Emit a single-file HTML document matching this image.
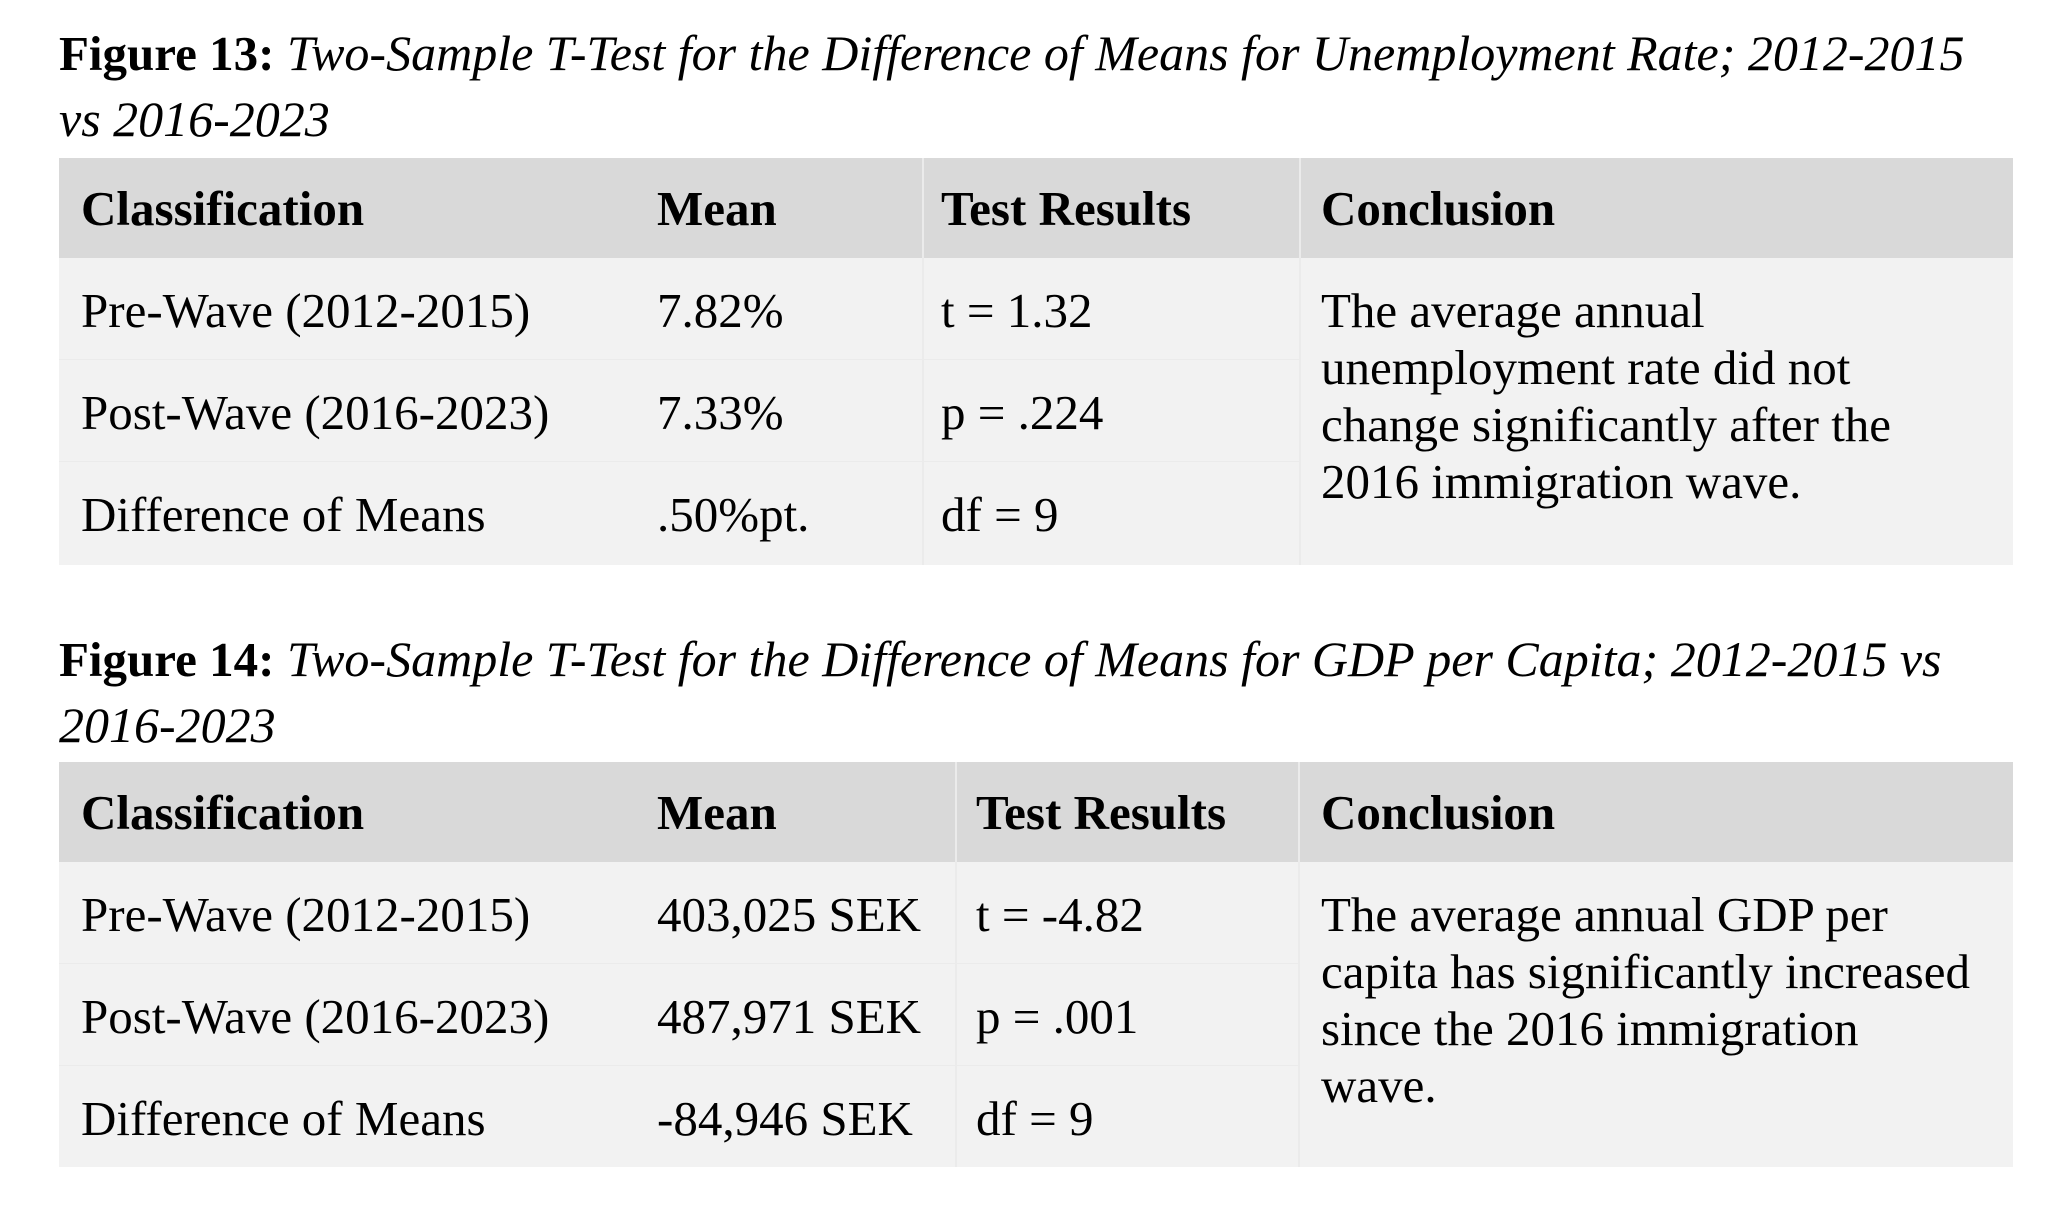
<!DOCTYPE html>
<html><head><meta charset="utf-8"><style>
html,body{margin:0;padding:0;background:#fff;}
body{width:2062px;height:1210px;position:relative;overflow:hidden;font-family:"Liberation Serif",serif;color:#000;}
.t{position:absolute;font-size:49px;line-height:57px;white-space:nowrap;}
.ti{font-size:50px;}
.b{font-weight:bold;}
.i{font-style:italic;}
.box{position:absolute;}
</style></head><body>

<div class="t ti" style="left:59px;top:25px;"><span class="b" style="font-size:49px;">Figure 13:</span> <span class="i">Two-Sample T-Test for the Difference of Means for Unemployment Rate; 2012-2015</span></div>
<div class="t ti i" style="left:59px;top:91px;">vs 2016-2023</div>

<div>
<div class="box" style="left:59px;top:158px;width:1954px;height:100px;background:#d9d9d9;"></div>
<div class="box" style="left:59px;top:258px;width:1954px;height:307px;background:#f2f2f2;"></div>
<div class="box" style="left:922px;top:158px;width:2px;height:407px;background:#ebebeb;"></div>
<div class="box" style="left:1299px;top:158px;width:2px;height:407px;background:#ebebeb;"></div>
<div class="box" style="left:59px;top:359px;width:1240px;height:1px;background:#ebebeb;"></div>
<div class="box" style="left:59px;top:461px;width:1240px;height:1px;background:#ebebeb;"></div>
<div class="t b" style="left:81px;top:180px;">Classification</div>
<div class="t b" style="left:657px;top:180px;">Mean</div>
<div class="t b" style="left:941px;top:180px;">Test Results</div>
<div class="t b" style="left:1321px;top:180px;">Conclusion</div>
<div class="t" style="left:81px;top:282px;">Pre-Wave (2012-2015)</div>
<div class="t" style="left:657px;top:282px;">7.82%</div>
<div class="t" style="left:941px;top:282px;">t = 1.32</div>
<div class="t" style="left:81px;top:384px;">Post-Wave (2016-2023)</div>
<div class="t" style="left:657px;top:384px;">7.33%</div>
<div class="t" style="left:941px;top:384px;">p = .224</div>
<div class="t" style="left:81px;top:486px;">Difference of Means</div>
<div class="t" style="left:657px;top:486px;">.50%pt.</div>
<div class="t" style="left:941px;top:486px;">df = 9</div>
<div class="t" style="left:1321px;top:282px;white-space:normal;width:680px;">The average annual<br>unemployment rate did not<br>change significantly after the<br>2016 immigration wave.</div>
</div>

<div class="t ti" style="left:59px;top:631px;"><span class="b" style="font-size:49px;">Figure 14:</span> <span class="i">Two-Sample T-Test for the Difference of Means for GDP per Capita; 2012-2015 vs</span></div>
<div class="t ti i" style="left:59px;top:697px;">2016-2023</div>

<div>
<div class="box" style="left:59px;top:762px;width:1954px;height:100px;background:#d9d9d9;"></div>
<div class="box" style="left:59px;top:862px;width:1954px;height:305px;background:#f2f2f2;"></div>
<div class="box" style="left:955px;top:762px;width:2px;height:405px;background:#ebebeb;"></div>
<div class="box" style="left:1298px;top:762px;width:2px;height:405px;background:#ebebeb;"></div>
<div class="box" style="left:59px;top:963px;width:1240px;height:1px;background:#ebebeb;"></div>
<div class="box" style="left:59px;top:1065px;width:1240px;height:1px;background:#ebebeb;"></div>
<div class="t b" style="left:81px;top:784px;">Classification</div>
<div class="t b" style="left:657px;top:784px;">Mean</div>
<div class="t b" style="left:976px;top:784px;">Test Results</div>
<div class="t b" style="left:1321px;top:784px;">Conclusion</div>
<div class="t" style="left:81px;top:886px;">Pre-Wave (2012-2015)</div>
<div class="t" style="left:657px;top:886px;">403,025 SEK</div>
<div class="t" style="left:976px;top:886px;">t = -4.82</div>
<div class="t" style="left:81px;top:988px;">Post-Wave (2016-2023)</div>
<div class="t" style="left:657px;top:988px;">487,971 SEK</div>
<div class="t" style="left:976px;top:988px;">p = .001</div>
<div class="t" style="left:81px;top:1090px;">Difference of Means</div>
<div class="t" style="left:657px;top:1090px;">-84,946 SEK</div>
<div class="t" style="left:976px;top:1090px;">df = 9</div>
<div class="t" style="left:1321px;top:886px;white-space:normal;width:690px;">The average annual GDP per<br>capita has significantly increased<br>since the 2016 immigration<br>wave.</div>
</div>

</body></html>
